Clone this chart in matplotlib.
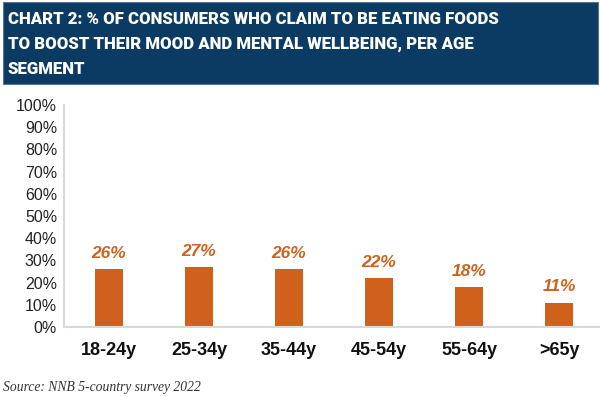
import matplotlib.pyplot as plt
from matplotlib.patches import Rectangle

# --- data ---
age_groups = ["18-24y", "25-34y", "35-44y", "45-54y", "55-64y", ">65y"]
share_pct = [26, 27, 26, 22, 18, 11]
y_ticks = list(range(0, 101, 10))

title = ("CHART 2: % OF CONSUMERS WHO CLAIM TO BE EATING FOODS\n"
         "TO BOOST THEIR MOOD AND MENTAL WELLBEING, PER AGE\n"
         "SEGMENT")
source = "Source: NNB 5-country survey 2022"

orange = "#D0611C"
navy = "#0B3A63"

fig = plt.figure(figsize=(6, 3.97), dpi=100)
W, H = 600, 397

# --- header box ---
fig.patches.append(Rectangle((3 / W, 1 - 84 / H), 595 / W, 82 / H,
                             transform=fig.transFigure, facecolor=navy,
                             edgecolor="#5a7592", linewidth=0.8))
t = fig.text(8 / W, 1 - 44 / H, title, color="white", fontsize=13,
             fontweight="black", family=["Roboto", "DejaVu Sans"],
             va="center", ha="left", linespacing=1.7)
# fit the title's width to the header like in the reference (~490 px)
r = fig.canvas.get_renderer()
w = t.get_window_extent(r).width
t.set_fontsize(13 * 490 / w)

# --- axes ---
ax = fig.add_axes([64 / W, 1 - 327 / H, 540 / W, 222 / H])
x = list(range(len(age_groups)))
ax.bar(x, share_pct, width=0.31, color=orange)
for xi, v in zip(x, share_pct):
    ax.annotate(f"{v}%", (xi, v), xytext=(0, 6), textcoords="offset points",
                ha="center", va="bottom", color=orange, fontsize=12.5,
                fontweight="bold", fontstyle="italic", family="Liberation Sans")

ax.set_xlim(-0.5, len(age_groups) - 0.5)
ax.set_ylim(0, 100)
ax.set_yticks(y_ticks)
ax.set_yticklabels([f"{t}%" for t in y_ticks], fontsize=11.5,
                   family="Liberation Sans", color="#222222")
ax.set_xticks(x)
ax.set_xticklabels(age_groups, fontsize=13, fontweight="bold",
                   family="Liberation Sans", color="#111111")
ax.tick_params(length=0)
ax.tick_params(axis="y", pad=5)
ax.tick_params(axis="x", pad=11)
for s in ["top", "right"]:
    ax.spines[s].set_visible(False)
for s in ["left", "bottom"]:
    ax.spines[s].set_color("#D9D9D9")
    ax.spines[s].set_linewidth(1.5)

fig.text(3 / W, 1 - 387 / H, source, fontsize=9.8, fontstyle="italic",
         family="Liberation Serif", color="#333333", va="center", ha="left")

fig.savefig("out.png", dpi=100)
